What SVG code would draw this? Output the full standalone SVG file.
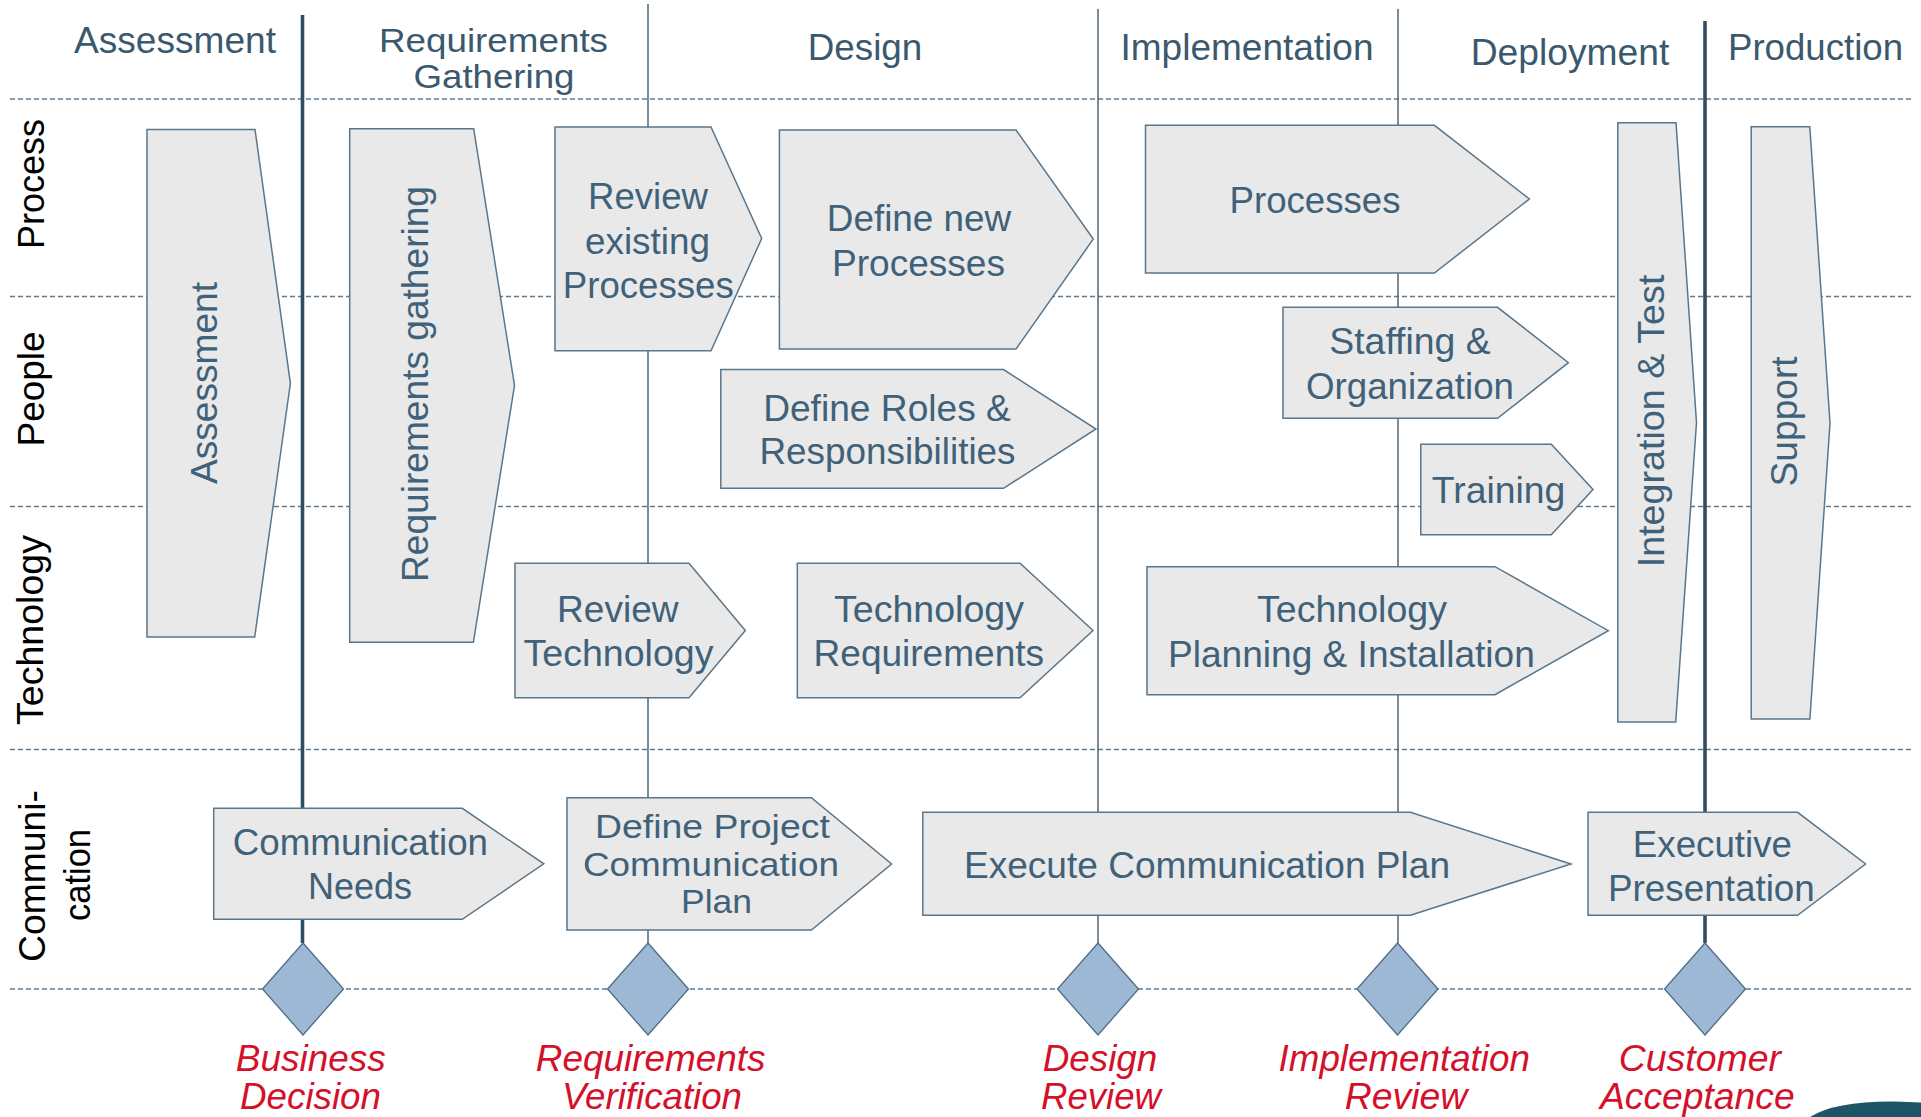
<svg xmlns="http://www.w3.org/2000/svg" width="1921" height="1117" viewBox="0 0 1921 1117">
<style>
  text { font-family: "Liberation Sans", Arial, sans-serif; }
  .hdr { font-size: 37px; fill: #3b596e; text-anchor: middle; }
  .row { font-size: 37px; fill: #000000; text-anchor: middle; }
  .nt { font-size: 36.5px; fill: #3f6179; text-anchor: middle; }
  .vt { font-size: 37px; fill: #3f6179; text-anchor: middle; }
  .ms { font-size: 36px; fill: #d4102a; font-style: italic; text-anchor: middle; }
  .tight { font-size: 34px; }
  .node { fill: #e9e9e9; stroke: #5a768b; stroke-width: 1.5; }
  .dash { stroke: #5e7a8f; stroke-width: 1.5; stroke-dasharray: 5 3; fill: none; }
  .thick { stroke: #2f4d63; stroke-width: 3.6; }
  .thin { stroke: #4c6679; stroke-width: 1.5; }
  .dia { fill: #9db8d5; stroke: #4e6c84; stroke-width: 1.3; }
</style>
<rect width="1921" height="1117" fill="#ffffff"/>

<g id="grid">
  <line class="dash" x1="10" y1="99" x2="1913" y2="99"/>
  <line class="dash" x1="10" y1="296.5" x2="1913" y2="296.5"/>
  <line class="dash" x1="10" y1="506.5" x2="1913" y2="506.5"/>
  <line class="dash" x1="10" y1="749.5" x2="1913" y2="749.5"/>
  <line class="dash" x1="10" y1="989" x2="1913" y2="989"/>
</g>

<g id="headers">
  <text class="hdr" x="175" y="53" textLength="202" lengthAdjust="spacingAndGlyphs">Assessment</text>
  <text class="hdr tight" x="493.5" y="52" textLength="229" lengthAdjust="spacingAndGlyphs">Requirements</text>
  <text class="hdr tight" x="494" y="88" textLength="161" lengthAdjust="spacingAndGlyphs">Gathering</text>
  <text class="hdr" x="865" y="60" textLength="114.5" lengthAdjust="spacingAndGlyphs">Design</text>
  <text class="hdr" x="1247" y="60" textLength="253" lengthAdjust="spacingAndGlyphs">Implementation</text>
  <text class="hdr" x="1570" y="65" textLength="198.6" lengthAdjust="spacingAndGlyphs">Deployment</text>
  <text class="hdr" x="1815.5" y="60" textLength="175" lengthAdjust="spacingAndGlyphs">Production</text>
</g>

<g id="row-labels">
  <text class="row" transform="translate(44,184) rotate(-90)" textLength="130" lengthAdjust="spacingAndGlyphs">Process</text>
  <text class="row" transform="translate(44,389) rotate(-90)" textLength="115" lengthAdjust="spacingAndGlyphs">People</text>
  <text class="row" transform="translate(43,630) rotate(-90)" textLength="190" lengthAdjust="spacingAndGlyphs">Technology</text>
  <text class="row" transform="translate(45,876) rotate(-90)" textLength="172" lengthAdjust="spacingAndGlyphs">Communi-</text>
  <text class="row" transform="translate(90,875) rotate(-90)" textLength="92" lengthAdjust="spacingAndGlyphs">cation</text>
</g>

<g id="connectors">
  <line class="thick" x1="302.5" y1="15" x2="302.5" y2="943"/>
  <line class="thin" x1="648" y1="4" x2="648" y2="943"/>
  <line class="thin" x1="1098" y1="9" x2="1098" y2="943"/>
  <line class="thin" x1="1398" y1="9" x2="1398" y2="943"/>
  <line class="thick" x1="1705" y1="21" x2="1705" y2="943"/>
</g>

<g id="assessment">
  <polygon class="node" points="147,129.5 255,129.5 290.4,383.3 254.7,637 147,637"/>
  <text class="vt" transform="translate(217.4,383) rotate(-90)" textLength="202" lengthAdjust="spacingAndGlyphs">Assessment</text>
</g>
<g id="requirements-gathering">
  <polygon class="node" points="349.7,128.7 473.7,128.7 514.5,385.5 473.4,642.3 349.7,642.3"/>
  <text class="vt" transform="translate(427.5,384) rotate(-90)" textLength="396" lengthAdjust="spacingAndGlyphs">Requirements gathering</text>
</g>
<g id="review-existing-processes">
  <polygon class="node" points="555,127 711,127 761.7,238.5 711,350.7 555,350.7"/>
  <text class="nt" x="648" y="209" textLength="120" lengthAdjust="spacingAndGlyphs">Review</text>
  <text class="nt" x="647.5" y="254" textLength="125" lengthAdjust="spacingAndGlyphs">existing</text>
  <text class="nt" x="648.3" y="298" textLength="171" lengthAdjust="spacingAndGlyphs">Processes</text>
</g>
<g id="define-new-processes">
  <polygon class="node" points="779.4,130 1016,130 1093.3,239 1016,349 779.4,349"/>
  <text class="nt" x="919" y="231" textLength="184.5" lengthAdjust="spacingAndGlyphs">Define new</text>
  <text class="nt" x="918.5" y="276" textLength="173" lengthAdjust="spacingAndGlyphs">Processes</text>
</g>
<g id="processes">
  <polygon class="node" points="1145.5,125.3 1434.4,125.3 1529.4,199 1434.4,273 1145.5,273"/>
  <text class="nt" x="1315" y="212.7" textLength="171" lengthAdjust="spacingAndGlyphs">Processes</text>
</g>
<g id="staffing-organization">
  <polygon class="node" points="1283,307.3 1497.5,307.3 1568.4,362.7 1497.5,418.3 1283,418.3"/>
  <text class="nt" x="1410" y="354" textLength="161.5" lengthAdjust="spacingAndGlyphs">Staffing &amp;</text>
  <text class="nt" x="1410" y="398.5" textLength="208" lengthAdjust="spacingAndGlyphs">Organization</text>
</g>
<g id="define-roles">
  <polygon class="node" points="720.8,369.5 1003.5,369.5 1096,429 1003.5,488.3 720.8,488.3"/>
  <text class="nt" x="887" y="421" textLength="247.7" lengthAdjust="spacingAndGlyphs">Define Roles &amp;</text>
  <text class="nt" x="887.5" y="464" textLength="256" lengthAdjust="spacingAndGlyphs">Responsibilities</text>
</g>
<g id="training">
  <polygon class="node" points="1420.8,444.3 1551.3,444.3 1593,489.5 1551.3,534.7 1420.8,534.7"/>
  <text class="nt" x="1498.6" y="502.7" textLength="133.6" lengthAdjust="spacingAndGlyphs">Training</text>
</g>
<g id="integration-test">
  <polygon class="node" points="1617.8,122.7 1676,122.7 1696.5,422.5 1675.7,722 1617.8,722"/>
  <text class="vt" transform="translate(1663.5,421) rotate(-90)" textLength="292.7" lengthAdjust="spacingAndGlyphs">Integration &amp; Test</text>
</g>
<g id="support">
  <polygon class="node" points="1751.2,126.7 1809.8,126.7 1830,423 1809.9,719 1751.2,719"/>
  <text class="vt" transform="translate(1796.5,421.4) rotate(-90)" textLength="130" lengthAdjust="spacingAndGlyphs">Support</text>
</g>
<g id="review-technology">
  <polygon class="node" points="515,563.3 689,563.3 745.3,630.5 689,697.7 515,697.7"/>
  <text class="nt" x="617.8" y="621.7" textLength="121.5" lengthAdjust="spacingAndGlyphs">Review</text>
  <text class="nt" x="618.5" y="666" textLength="190" lengthAdjust="spacingAndGlyphs">Technology</text>
</g>
<g id="technology-requirements">
  <polygon class="node" points="797.3,563.3 1020,563.3 1093,630.5 1020,697.7 797.3,697.7"/>
  <text class="nt" x="929" y="621.7" textLength="190" lengthAdjust="spacingAndGlyphs">Technology</text>
  <text class="nt" x="928.8" y="666" textLength="230.5" lengthAdjust="spacingAndGlyphs">Requirements</text>
</g>
<g id="technology-planning">
  <polygon class="node" points="1147,566.7 1495,566.7 1608.3,630.7 1495,694.7 1147,694.7"/>
  <text class="nt" x="1352" y="621.7" textLength="190" lengthAdjust="spacingAndGlyphs">Technology</text>
  <text class="nt" x="1351.4" y="667" textLength="366.7" lengthAdjust="spacingAndGlyphs">Planning &amp; Installation</text>
</g>
<g id="communication-needs">
  <polygon class="node" points="213.7,808.3 462.3,808.3 543.8,863.8 462.3,919.3 213.7,919.3"/>
  <text class="nt" x="360.4" y="855" textLength="255.3" lengthAdjust="spacingAndGlyphs">Communication</text>
  <text class="nt" x="360" y="899.3" textLength="104" lengthAdjust="spacingAndGlyphs">Needs</text>
</g>
<g id="define-project-communication-plan">
  <polygon class="node" points="567,797.7 811.4,797.7 891.6,864 811.4,930 567,930"/>
  <text class="nt tight" x="712.4" y="837.5" textLength="234.8" lengthAdjust="spacingAndGlyphs">Define Project</text>
  <text class="nt tight" x="711" y="875.5" textLength="256" lengthAdjust="spacingAndGlyphs">Communication</text>
  <text class="nt tight" x="716.5" y="912.5" textLength="71" lengthAdjust="spacingAndGlyphs">Plan</text>
</g>
<g id="execute-communication-plan">
  <polygon class="node" points="922.8,812.3 1410.4,812.3 1571,864 1410.4,915.3 922.8,915.3"/>
  <text class="nt" x="1207" y="878.3" textLength="486" lengthAdjust="spacingAndGlyphs">Execute Communication Plan</text>
</g>
<g id="executive-presentation">
  <polygon class="node" points="1588,812.3 1797.6,812.3 1865.6,864 1797.6,915.3 1588,915.3"/>
  <text class="nt" x="1712.4" y="857" textLength="159.2" lengthAdjust="spacingAndGlyphs">Executive</text>
  <text class="nt" x="1711.4" y="901" textLength="206.8" lengthAdjust="spacingAndGlyphs">Presentation</text>
</g>

<g id="milestone-business-decision">
  <polygon class="dia" points="303,943 343.5,989 303,1035 262.5,989"/>
  <text class="ms" x="310.8" y="1071" textLength="150" lengthAdjust="spacingAndGlyphs">Business</text>
  <text class="ms" x="310.5" y="1108.5" textLength="141" lengthAdjust="spacingAndGlyphs">Decision</text>
</g>
<g id="milestone-requirements-verification">
  <polygon class="dia" points="648,943 688.5,989 648,1035 607.5,989"/>
  <text class="ms" x="650.6" y="1071" textLength="229.7" lengthAdjust="spacingAndGlyphs">Requirements</text>
  <text class="ms" x="652" y="1108.5" textLength="180" lengthAdjust="spacingAndGlyphs">Verification</text>
</g>
<g id="milestone-design-review">
  <polygon class="dia" points="1098,943 1138.5,989 1098,1035 1057.5,989"/>
  <text class="ms" x="1100" y="1071" textLength="114.6" lengthAdjust="spacingAndGlyphs">Design</text>
  <text class="ms" x="1101" y="1108.5" textLength="120" lengthAdjust="spacingAndGlyphs">Review</text>
</g>
<g id="milestone-implementation-review">
  <polygon class="dia" points="1397.5,943 1438,989 1397.5,1035 1357,989"/>
  <text class="ms" x="1404.2" y="1071" textLength="251.3" lengthAdjust="spacingAndGlyphs">Implementation</text>
  <text class="ms" x="1406" y="1108.5" textLength="122.6" lengthAdjust="spacingAndGlyphs">Review</text>
</g>
<g id="milestone-customer-acceptance">
  <polygon class="dia" points="1705,943 1745.5,989 1705,1035 1664.5,989"/>
  <text class="ms" x="1699.8" y="1071" textLength="162.3" lengthAdjust="spacingAndGlyphs">Customer</text>
  <text class="ms" x="1697.3" y="1108.5" textLength="194.6" lengthAdjust="spacingAndGlyphs">Acceptance</text>
</g>

<path d="M1810,1117 Q1835,1101 1895,1101.5 L1921,1102.5 L1921,1117 Z" fill="#1e5566"/>
</svg>
